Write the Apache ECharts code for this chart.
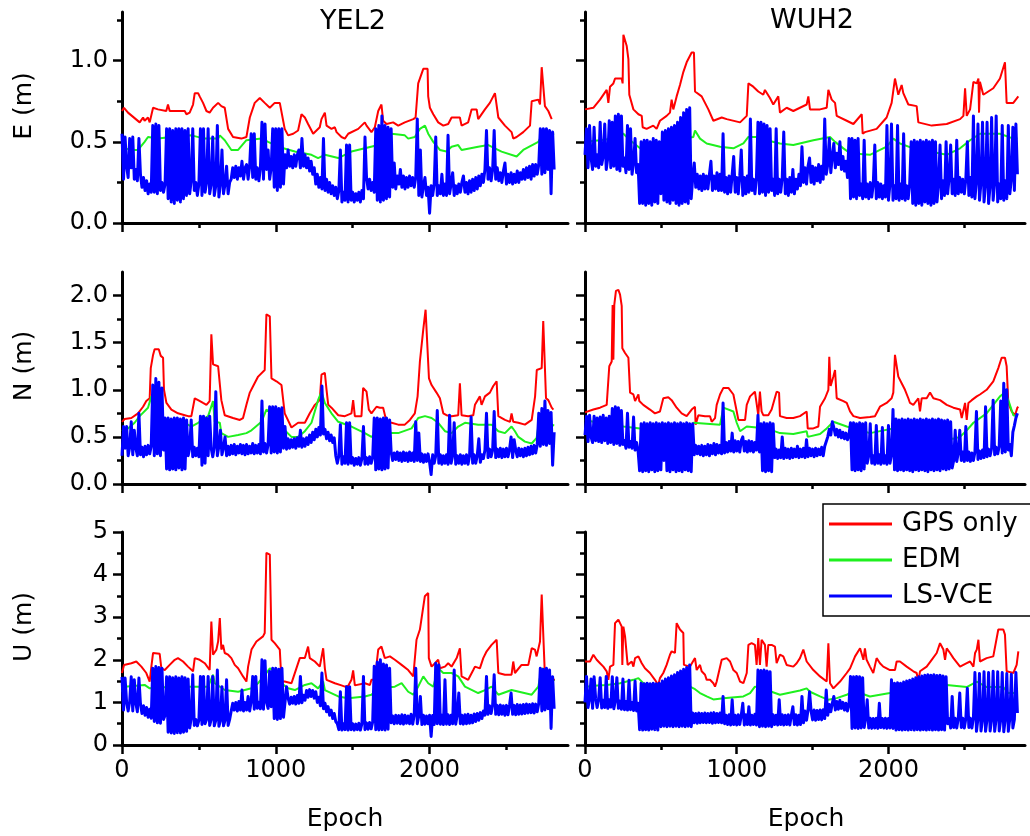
<!DOCTYPE html>
<html><head><meta charset="utf-8">
<script src="https://cdn.jsdelivr.net/npm/echarts@6/dist/echarts.min.js"></script>
<style>html,body{margin:0;padding:0;background:#fff}#c{width:1030px;height:836px}</style>
</head><body><div id="c"></div>
<script>
// ---------------- DATA ----------------
const STATIONS = ['YEL2', 'WUH2'];
const COMPONENT_NAMES = ['E (m)', 'N (m)', 'U (m)'];
const SERIES_NAMES = ['GPS only', 'EDM', 'LS-VCE'];
const X_MAX = 2900;
const X_MAJOR = [0, 1000, 2000];
const X_MINOR = [500, 1500, 2500];
const Y_MAX = [1.3, 2.25, 5];
const Y_MAJOR = [[0, 0.5, 1.0], [0, 0.5, 1.0, 1.5, 2.0], [0, 1, 2, 3, 4, 5]];
const Y_MINOR = [[0.25, 0.75, 1.25], [0.25, 0.75, 1.25, 1.75], [0.5, 1.5, 2.5, 3.5, 4.5]];
const LSVCE_STEP = 10; // epochs between LS-VCE samples

// ---- E, YEL2 ----
const gps_E_YEL2 = [[0,0.69],[13,0.71],[39,0.68],[115,0.62],[137,0.65],[147,0.63],[169,0.65],[180,0.62],[202,0.71],[234,0.70],[245,0.69],[288,0.69],[299,0.73],[310,0.69],[408,0.69],[419,0.67],[440,0.68],[462,0.73],[473,0.80],[495,0.80],[505,0.78],[527,0.74],[549,0.69],[570,0.68],[592,0.71],[625,0.74],[636,0.75],[646,0.72],[668,0.71],[690,0.58],[722,0.53],[776,0.52],[809,0.53],[831,0.65],[863,0.74],[896,0.77],[928,0.74],[961,0.71],[993,0.74],[1026,0.74],[1048,0.63],[1058,0.58],[1080,0.54],[1113,0.55],[1145,0.57],[1167,0.67],[1189,0.65],[1210,0.61],[1243,0.55],[1286,0.59],[1297,0.64],[1319,0.68],[1330,0.60],[1362,0.58],[1384,0.59],[1395,0.56],[1427,0.53],[1449,0.52],[1471,0.55],[1536,0.58],[1579,0.62],[1590,0.60],[1622,0.56],[1644,0.59],[1666,0.69],[1687,0.73],[1698,0.63],[1720,0.61],[1763,0.62],[1796,0.60],[1839,0.62],[1894,0.64],[1909,0.65],[1926,0.86],[1959,0.95],[1987,0.95],[1991,0.78],[2002,0.71],[2024,0.67],[2056,0.62],[2089,0.60],[2121,0.61],[2143,0.65],[2197,0.65],[2208,0.60],[2251,0.62],[2273,0.70],[2306,0.70],[2316,0.64],[2360,0.70],[2392,0.74],[2425,0.80],[2447,0.65],[2490,0.60],[2533,0.56],[2544,0.52],[2566,0.53],[2609,0.56],[2653,0.60],[2664,0.75],[2707,0.76],[2718,0.73],[2729,0.96],[2739,0.96],[2750,0.72],[2772,0.69],[2794,0.64]];
const edm_E_YEL2 = [[0,0.47],[17,0.46],[61,0.45],[104,0.45],[147,0.50],[169,0.53],[234,0.52],[321,0.53],[451,0.54],[538,0.52],[625,0.52],[636,0.54],[668,0.51],[711,0.45],[755,0.45],[809,0.51],[907,0.52],[950,0.50],[1015,0.47],[1124,0.44],[1232,0.42],[1275,0.40],[1319,0.42],[1406,0.40],[1492,0.44],[1579,0.46],[1666,0.48],[1709,0.51],[1753,0.55],[1839,0.54],[1861,0.52],[1904,0.53],[1937,0.58],[1970,0.60],[1991,0.55],[2024,0.50],[2067,0.45],[2110,0.44],[2143,0.47],[2186,0.48],[2208,0.45],[2316,0.47],[2382,0.48],[2468,0.44],[2566,0.41],[2609,0.45],[2707,0.50],[2729,0.54],[2810,0.55]];
const vce_E_YEL2 = [
0.55,0.27,0.53,0.35,0.28,0.52,0.34,0.53,0.27,0.33,
0.26,0.52,0.30,0.22,0.28,0.20,0.26,0.18,0.24,0.19,
0.60,0.19,0.61,0.18,0.60,0.20,0.25,0.19,0.24,0.58,
0.15,0.58,0.13,0.57,0.12,0.58,0.14,0.58,0.13,0.58,
0.15,0.57,0.17,0.58,0.18,0.26,0.58,0.20,0.25,0.17,
0.24,0.58,0.17,0.58,0.19,0.25,0.58,0.18,0.24,0.53,
0.17,0.23,0.60,0.16,0.24,0.45,0.18,0.24,0.35,0.18,
0.25,0.27,0.34,0.28,0.35,0.27,0.34,0.29,0.38,0.27,
0.34,0.36,0.27,0.35,0.55,0.28,0.55,0.27,0.34,0.26,
0.34,0.62,0.27,0.61,0.33,0.45,0.27,0.34,0.58,0.22,
0.58,0.20,0.58,0.22,0.58,0.24,0.42,0.34,0.45,0.35,
0.41,0.34,0.42,0.35,0.42,0.45,0.34,0.52,0.35,0.42,
0.34,0.40,0.32,0.38,0.30,0.34,0.24,0.30,0.22,0.28,
0.21,0.52,0.20,0.27,0.19,0.25,0.18,0.23,0.17,0.22,
0.15,0.20,0.45,0.13,0.19,0.14,0.48,0.13,0.48,0.14,
0.19,0.13,0.18,0.14,0.19,0.13,0.20,0.15,0.53,0.28,
0.21,0.27,0.20,0.25,0.19,0.58,0.14,0.60,0.13,0.66,
0.14,0.60,0.15,0.59,0.16,0.58,0.22,0.37,0.21,0.29,
0.24,0.33,0.22,0.29,0.21,0.28,0.22,0.29,0.23,0.28,
0.22,0.28,0.64,0.17,0.45,0.16,0.23,0.28,0.17,0.22,
0.06,0.23,0.17,0.24,0.53,0.17,0.23,0.18,0.30,0.17,
0.24,0.17,0.54,0.18,0.24,0.31,0.17,0.23,0.18,0.24,
0.19,0.25,0.29,0.19,0.25,0.18,0.26,0.19,0.27,0.20,
0.28,0.21,0.29,0.23,0.30,0.25,0.33,0.57,0.27,0.34,
0.26,0.33,0.57,0.27,0.34,0.26,0.31,0.25,0.32,0.37,
0.24,0.30,0.25,0.31,0.24,0.30,0.25,0.32,0.25,0.31,
0.27,0.33,0.27,0.34,0.28,0.35,0.27,0.36,0.29,0.36,
0.30,0.36,0.58,0.30,0.58,0.31,0.58,0.33,0.57,0.18,
0.56,0.33];

// ---- E, WUH2 ----
const gps_E_WUH2 = [[0,0.70],[11,0.70],[55,0.71],[99,0.76],[143,0.82],[154,0.74],[165,0.84],[187,0.86],[198,0.89],[242,0.89],[248,0.86],[253,1.16],[275,1.09],[286,1.01],[292,0.79],[319,0.70],[352,0.67],[374,0.66],[380,0.59],[406,0.58],[450,0.60],[472,0.58],[494,0.63],[538,0.66],[560,0.68],[571,0.76],[582,0.70],[604,0.78],[626,0.85],[648,0.93],[670,0.99],[703,1.05],[714,1.06],[718,1.05],[725,0.81],[769,0.78],[813,0.70],[846,0.63],[901,0.65],[934,0.64],[1022,0.62],[1066,0.66],[1077,0.86],[1109,0.84],[1142,0.81],[1175,0.79],[1186,0.82],[1219,0.77],[1241,0.73],[1274,0.78],[1285,0.68],[1329,0.71],[1373,0.69],[1461,0.73],[1472,0.78],[1483,0.70],[1549,0.70],[1593,0.71],[1604,0.82],[1626,0.76],[1648,0.74],[1659,0.66],[1725,0.63],[1769,0.61],[1824,0.67],[1830,0.55],[1845,0.56],[1922,0.58],[1988,0.65],[2021,0.74],[2043,0.89],[2065,0.79],[2087,0.85],[2098,0.80],[2131,0.73],[2186,0.72],[2197,0.62],[2285,0.60],[2384,0.61],[2472,0.64],[2494,0.66],[2505,0.83],[2516,0.66],[2538,0.70],[2560,0.87],[2582,0.86],[2593,0.89],[2597,0.68],[2603,0.87],[2625,0.79],[2691,0.83],[2735,0.89],[2768,0.99],[2779,0.74],[2823,0.74],[2856,0.78]];
const edm_E_WUH2 = [[0,0.50],[99,0.51],[187,0.52],[231,0.55],[253,0.55],[297,0.51],[363,0.46],[494,0.46],[582,0.51],[714,0.53],[725,0.57],[758,0.52],[802,0.49],[890,0.47],[978,0.46],[1044,0.49],[1077,0.53],[1131,0.53],[1197,0.51],[1285,0.49],[1373,0.48],[1505,0.51],[1615,0.53],[1648,0.50],[1703,0.46],[1747,0.43],[1878,0.42],[1988,0.47],[2032,0.52],[2076,0.49],[2164,0.46],[2384,0.42],[2472,0.46],[2538,0.51],[2603,0.55],[2735,0.55],[2823,0.52],[2850,0.52]];
const vce_E_WUH2 = [
0.42,0.58,0.34,0.60,0.40,0.33,0.59,0.35,0.42,0.34,
0.62,0.36,0.41,0.61,0.33,0.40,0.63,0.34,0.62,0.35,
0.66,0.33,0.67,0.32,0.66,0.35,0.40,0.31,0.60,0.33,
0.58,0.30,0.37,0.52,0.31,0.36,0.12,0.50,0.12,0.51,
0.11,0.51,0.12,0.50,0.11,0.52,0.13,0.51,0.12,0.50,
0.18,0.56,0.14,0.57,0.13,0.58,0.12,0.59,0.14,0.60,
0.12,0.62,0.11,0.65,0.12,0.68,0.13,0.70,0.12,0.71,
0.15,0.28,0.37,0.22,0.30,0.21,0.29,0.20,0.30,0.21,
0.29,0.21,0.30,0.38,0.20,0.29,0.21,0.31,0.20,0.30,
0.20,0.55,0.19,0.28,0.18,0.29,0.19,0.30,0.41,0.19,
0.28,0.18,0.29,0.45,0.17,0.28,0.18,0.29,0.19,0.64,
0.20,0.27,0.18,0.28,0.62,0.18,0.62,0.19,0.61,0.17,
0.60,0.19,0.58,0.20,0.27,0.17,0.58,0.18,0.27,0.19,
0.28,0.56,0.18,0.27,0.17,0.28,0.19,0.33,0.18,0.27,
0.21,0.30,0.23,0.47,0.25,0.34,0.24,0.35,0.40,0.25,
0.35,0.24,0.34,0.26,0.36,0.25,0.35,0.27,0.64,0.30,
0.36,0.52,0.31,0.41,0.49,0.34,0.43,0.36,0.50,0.33,
0.41,0.32,0.38,0.28,0.52,0.15,0.52,0.16,0.51,0.15,
0.52,0.17,0.24,0.15,0.51,0.16,0.24,0.15,0.25,0.16,
0.24,0.48,0.15,0.25,0.16,0.24,0.15,0.23,0.16,0.60,
0.14,0.24,0.61,0.14,0.23,0.15,0.60,0.14,0.24,0.15,
0.55,0.14,0.23,0.15,0.24,0.50,0.12,0.51,0.11,0.50,
0.12,0.51,0.11,0.50,0.13,0.51,0.12,0.50,0.11,0.51,
0.12,0.50,0.13,0.24,0.48,0.15,0.26,0.17,0.50,0.18,
0.28,0.48,0.18,0.27,0.17,0.51,0.18,0.28,0.19,0.27,
0.18,0.27,0.50,0.17,0.28,0.16,0.66,0.15,0.26,0.61,
0.14,0.25,0.62,0.13,0.24,0.62,0.12,0.23,0.65,0.14,
0.25,0.66,0.13,0.24,0.15,0.60,0.14,0.26,0.15,0.60,
0.18,0.27,0.59,0.20,0.61,0.30];

// ---- N, YEL2 ----
const gps_N_YEL2 = [[0,0.66],[17,0.69],[61,0.70],[104,0.75],[137,0.82],[158,0.88],[180,0.91],[187,1.23],[202,1.37],[212,1.43],[239,1.43],[252,1.36],[267,1.34],[273,1.00],[289,0.86],[321,0.79],[364,0.75],[408,0.73],[430,0.72],[451,0.72],[473,0.91],[495,0.89],[527,0.86],[549,0.84],[570,0.88],[581,1.59],[592,1.27],[625,1.25],[646,0.89],[668,0.73],[722,0.70],[766,0.68],[787,0.70],[809,0.84],[831,0.97],[853,1.04],[885,1.14],[928,1.21],[939,1.80],[961,1.78],[972,1.12],[1004,1.09],[1037,1.05],[1058,0.75],[1102,0.60],[1145,0.65],[1189,0.65],[1221,0.75],[1254,0.84],[1286,0.89],[1297,1.16],[1319,1.18],[1330,1.00],[1341,0.84],[1362,0.81],[1406,0.73],[1449,0.72],[1492,0.75],[1503,0.89],[1514,0.72],[1557,0.72],[1568,1.02],[1590,0.98],[1605,0.79],[1622,0.75],[1655,0.82],[1677,0.81],[1698,0.81],[1720,0.66],[1753,0.65],[1796,0.63],[1839,0.63],[1872,0.68],[1904,0.75],[1922,0.93],[1937,1.30],[1959,1.64],[1974,1.85],[1987,1.87],[1996,1.12],[2013,1.05],[2045,0.97],[2067,0.91],[2089,0.75],[2110,0.73],[2143,0.72],[2186,0.73],[2197,1.07],[2208,0.73],[2251,0.72],[2284,0.73],[2295,0.84],[2327,0.93],[2338,0.84],[2360,0.93],[2392,0.97],[2414,1.04],[2436,1.09],[2447,0.72],[2490,0.68],[2523,0.66],[2533,0.75],[2544,0.66],[2577,0.65],[2620,0.63],[2664,0.68],[2686,0.93],[2697,1.21],[2729,1.23],[2739,1.73],[2750,1.73],[2757,0.91],[2772,0.89],[2794,0.81],[2805,0.79]];
const edm_N_YEL2 = [[0,0.56],[39,0.59],[82,0.65],[115,0.72],[169,0.81],[191,0.93],[213,0.89],[267,0.70],[321,0.66],[408,0.65],[451,0.61],[495,0.65],[560,0.72],[592,0.88],[603,0.66],[636,0.65],[646,0.54],[690,0.50],[755,0.52],[809,0.54],[842,0.57],[907,0.66],[939,0.79],[972,0.75],[1015,0.66],[1058,0.57],[1102,0.50],[1145,0.50],[1189,0.56],[1232,0.65],[1275,0.89],[1297,0.98],[1319,0.86],[1362,0.75],[1406,0.66],[1492,0.61],[1579,0.54],[1622,0.50],[1666,0.54],[1796,0.54],[1883,0.59],[1926,0.70],[1970,0.72],[2013,0.70],[2056,0.65],[2100,0.56],[2143,0.54],[2186,0.61],[2230,0.65],[2316,0.63],[2403,0.63],[2447,0.56],[2490,0.54],[2533,0.61],[2555,0.56],[2577,0.50],[2620,0.45],[2664,0.43],[2696,0.49],[2707,0.61],[2760,0.66],[2810,0.62]];
const vce_N_YEL2 = [
0.30,0.61,0.38,0.61,0.30,0.39,0.66,0.31,0.57,0.38,
0.30,0.75,0.31,0.39,0.29,0.40,0.31,0.41,0.32,0.40,
1.05,0.30,1.12,0.32,1.08,0.30,1.02,0.36,0.70,0.16,
0.70,0.15,0.69,0.16,0.70,0.15,0.70,0.17,0.69,0.15,
0.70,0.16,0.68,0.30,0.38,0.68,0.29,0.39,0.30,0.38,
0.29,0.72,0.20,0.72,0.22,0.70,0.30,0.72,0.38,0.29,
0.39,0.98,0.30,0.40,0.57,0.31,0.39,0.50,0.30,0.40,
0.31,0.41,0.32,0.42,0.31,0.40,0.33,0.42,0.32,0.41,
0.31,0.42,0.32,0.40,0.33,0.43,0.32,0.41,0.33,0.42,
0.32,0.88,0.34,0.43,0.33,0.42,0.82,0.33,0.82,0.34,
0.82,0.33,0.80,0.34,0.81,0.38,0.61,0.37,0.48,0.38,
0.47,0.39,0.48,0.38,0.49,0.40,0.57,0.39,0.48,0.40,
0.49,0.42,0.52,0.44,0.55,0.47,0.58,0.50,0.60,0.52,
1.04,0.53,0.58,0.48,0.55,0.46,0.52,0.44,0.49,0.30,
0.22,0.30,0.63,0.21,0.29,0.22,0.65,0.21,0.65,0.22,
0.28,0.20,0.27,0.21,0.28,0.20,0.27,0.61,0.21,0.28,
0.21,0.29,0.22,0.28,0.70,0.15,0.70,0.16,0.69,0.15,
0.70,0.16,0.70,0.17,0.68,0.34,0.25,0.33,0.26,0.34,
0.25,0.33,0.24,0.34,0.25,0.33,0.24,0.34,0.25,0.33,
0.24,0.66,0.25,0.54,0.24,0.32,0.23,0.31,0.24,0.32,
0.23,0.10,0.31,0.22,0.30,0.78,0.22,0.31,0.21,0.30,
0.22,0.31,0.21,0.73,0.22,0.30,0.65,0.21,0.30,0.22,
0.31,0.21,0.30,0.22,0.31,0.21,0.30,0.71,0.22,0.31,
0.22,0.30,0.48,0.23,0.31,0.27,0.36,0.75,0.28,0.37,
0.29,0.36,0.77,0.28,0.37,0.29,0.38,0.28,0.37,0.29,
0.38,0.29,0.37,0.50,0.28,0.47,0.36,0.29,0.38,0.30,
0.37,0.29,0.38,0.30,0.39,0.31,0.40,0.32,0.41,0.33,
0.42,0.75,0.40,0.80,0.42,0.88,0.41,0.78,0.43,0.76,
0.20,0.55];

// ---- N, WUH2 ----
const gps_N_WUH2 = [[0,0.76],[55,0.79],[99,0.81],[143,0.84],[160,1.25],[176,1.30],[182,1.90],[187,1.32],[193,1.90],[204,2.05],[220,2.06],[231,2.01],[242,1.89],[246,1.44],[264,1.39],[286,1.34],[297,0.97],[319,0.95],[330,0.88],[352,0.95],[358,0.88],[384,0.84],[428,0.79],[461,0.75],[494,0.77],[516,0.91],[549,0.92],[571,0.89],[604,0.81],[637,0.75],[670,0.72],[703,0.79],[725,0.82],[729,0.63],[747,0.73],[791,0.72],[824,0.72],[835,0.66],[857,0.70],[868,0.84],[890,0.95],[912,1.02],[945,1.02],[978,0.95],[989,0.86],[1011,0.68],[1055,0.68],[1066,0.84],[1088,0.93],[1120,0.98],[1131,0.97],[1142,0.73],[1153,0.98],[1164,0.77],[1175,0.73],[1208,0.73],[1230,0.79],[1263,0.98],[1279,0.97],[1285,0.72],[1329,0.70],[1373,0.70],[1417,0.72],[1461,0.77],[1468,0.59],[1505,0.59],[1538,0.61],[1549,0.82],[1582,0.91],[1604,1.00],[1610,1.35],[1619,1.04],[1637,1.14],[1648,1.21],[1659,0.91],[1703,0.88],[1725,0.86],[1747,0.77],[1769,0.72],[1813,0.70],[1878,0.71],[1911,0.72],[1944,0.82],[1988,0.86],[2021,0.91],[2032,0.97],[2043,1.37],[2054,1.36],[2065,1.14],[2087,1.07],[2109,1.00],[2131,0.91],[2142,0.86],[2164,0.84],[2197,0.91],[2208,0.77],[2219,0.91],[2252,0.91],[2274,0.97],[2296,0.91],[2340,0.89],[2384,0.84],[2428,0.81],[2472,0.79],[2483,0.70],[2505,0.86],[2516,0.68],[2527,0.86],[2549,0.89],[2582,0.93],[2603,0.95],[2647,1.00],[2691,1.09],[2724,1.23],[2746,1.34],[2768,1.34],[2779,1.25],[2790,0.86],[2812,0.77],[2834,0.73],[2850,0.81],[2856,0.82]];
const edm_N_WUH2 = [[0,0.68],[55,0.66],[143,0.65],[253,0.61],[363,0.59],[406,0.56],[692,0.56],[714,0.65],[890,0.63],[912,0.81],[978,0.77],[1000,0.65],[1022,0.56],[1066,0.61],[1197,0.59],[1285,0.54],[1373,0.53],[1461,0.56],[1468,0.50],[1549,0.53],[1593,0.59],[1637,0.66],[1725,0.61],[1813,0.57],[1878,0.54],[2032,0.59],[2164,0.58],[2252,0.56],[2340,0.49],[2428,0.48],[2472,0.50],[2516,0.57],[2560,0.65],[2647,0.75],[2735,0.93],[2768,0.97],[2790,0.89],[2823,0.73],[2845,0.72]];
const vce_N_WUH2 = [
0.52,0.72,0.45,0.73,0.50,0.44,0.72,0.46,0.70,0.45,
0.71,0.44,0.73,0.46,0.70,0.43,0.72,0.44,0.80,0.42,
0.82,0.43,0.81,0.41,0.78,0.42,0.46,0.38,0.75,0.39,
0.45,0.38,0.71,0.36,0.44,0.35,0.14,0.64,0.13,0.65,
0.14,0.64,0.13,0.65,0.15,0.64,0.13,0.65,0.14,0.64,
0.15,0.65,0.25,0.64,0.14,0.65,0.13,0.64,0.15,0.65,
0.13,0.64,0.14,0.65,0.13,0.64,0.15,0.65,0.14,0.64,
0.13,0.64,0.31,0.41,0.32,0.40,0.31,0.41,0.30,0.40,
0.31,0.42,0.30,0.41,0.32,0.43,0.31,0.42,0.33,0.41,
0.32,0.86,0.33,0.44,0.34,0.45,0.35,0.54,0.34,0.46,
0.35,0.45,0.34,0.46,0.50,0.35,0.45,0.34,0.46,0.35,
0.45,0.34,0.44,0.36,0.73,0.34,0.64,0.14,0.65,0.13,
0.64,0.14,0.65,0.13,0.64,0.28,0.37,0.27,0.36,0.28,
0.50,0.27,0.38,0.28,0.37,0.27,0.38,0.28,0.37,0.29,
0.40,0.28,0.37,0.29,0.38,0.28,0.47,0.29,0.38,0.30,
0.37,0.29,0.38,0.30,0.37,0.31,0.39,0.30,0.40,0.42,
0.50,0.58,0.52,0.66,0.60,0.52,0.58,0.50,0.57,0.49,
0.55,0.48,0.54,0.47,0.52,0.65,0.15,0.65,0.14,0.64,
0.15,0.65,0.14,0.64,0.16,0.65,0.22,0.30,0.64,0.22,
0.30,0.21,0.62,0.22,0.31,0.21,0.60,0.22,0.30,0.21,
0.62,0.22,0.31,0.79,0.15,0.69,0.14,0.68,0.15,0.69,
0.14,0.68,0.15,0.69,0.14,0.68,0.13,0.69,0.15,0.68,
0.14,0.69,0.15,0.68,0.14,0.69,0.13,0.68,0.15,0.69,
0.14,0.68,0.15,0.69,0.14,0.68,0.16,0.67,0.15,0.68,
0.16,0.66,0.17,0.25,0.57,0.24,0.33,0.57,0.25,0.34,
0.24,0.61,0.25,0.34,0.24,0.33,0.25,0.34,0.77,0.26,
0.35,0.27,0.36,0.28,0.82,0.29,0.37,0.30,0.38,0.89,
0.31,0.39,0.32,0.40,0.88,0.33,1.07,0.34,1.00,0.36,
0.42,0.30,0.55,0.62,0.70,0.75];

// ---- U, YEL2 ----
const gps_U_YEL2 = [[0,1.69],[13,1.88],[61,1.92],[93,1.96],[126,1.84],[158,1.69],[180,1.49],[191,1.84],[202,2.16],[245,2.14],[256,1.80],[278,1.76],[310,1.88],[343,2.00],[364,2.04],[397,1.96],[429,1.84],[462,1.73],[473,2.04],[505,2.00],[538,1.92],[570,1.76],[581,2.90],[592,2.12],[614,2.24],[625,2.43],[636,2.98],[646,2.24],[657,2.35],[668,2.16],[690,2.12],[711,2.04],[733,1.88],[755,1.80],[787,1.61],[809,1.49],[820,1.84],[842,2.24],[874,2.43],[917,2.55],[928,2.63],[939,4.51],[961,4.47],[972,2.47],[993,2.39],[1026,2.24],[1037,1.49],[1058,1.49],[1102,1.45],[1113,1.57],[1156,2.04],[1189,2.04],[1210,2.31],[1221,2.04],[1254,1.96],[1286,1.84],[1308,2.27],[1319,1.80],[1330,1.53],[1384,1.45],[1427,1.40],[1449,1.37],[1471,1.39],[1492,1.53],[1503,1.75],[1514,1.40],[1579,1.45],[1612,1.41],[1622,1.53],[1644,1.53],[1666,2.24],[1687,2.31],[1709,2.04],[1742,2.08],[1774,2.00],[1818,1.88],[1861,1.76],[1894,1.61],[1915,2.47],[1937,2.71],[1969,3.49],[1991,3.57],[1995,2.04],[2013,1.84],[2035,1.92],[2056,2.00],[2067,1.80],[2100,1.84],[2121,1.92],[2143,1.84],[2176,2.04],[2197,2.27],[2208,1.61],[2251,1.53],[2284,1.76],[2295,1.84],[2327,1.80],[2349,2.04],[2371,2.20],[2403,2.35],[2436,2.47],[2447,1.69],[2490,1.65],[2533,1.65],[2544,1.96],[2555,1.69],[2598,1.88],[2642,1.88],[2664,2.27],[2685,2.24],[2696,2.08],[2718,2.43],[2729,3.53],[2739,3.53],[2750,1.61],[2772,1.53],[2815,1.53]];
const edm_U_YEL2 = [[0,1.25],[17,1.37],[147,1.41],[180,1.33],[321,1.37],[473,1.37],[560,1.37],[592,1.65],[603,1.45],[668,1.29],[755,1.25],[842,1.33],[885,1.45],[939,1.69],[961,1.80],[993,1.73],[1037,1.45],[1080,1.33],[1124,1.29],[1189,1.41],[1232,1.45],[1275,1.33],[1308,1.49],[1319,1.29],[1406,1.14],[1471,1.10],[1579,1.14],[1622,1.18],[1666,1.33],[1774,1.37],[1818,1.45],[1861,1.25],[1894,1.18],[1926,1.37],[1959,1.61],[1991,1.45],[2024,1.37],[2056,1.80],[2089,1.69],[2143,1.69],[2186,1.61],[2230,1.37],[2316,1.22],[2360,1.29],[2403,1.37],[2447,1.18],[2533,1.29],[2664,1.18],[2707,1.37],[2729,1.80],[2810,1.50]];
const vce_U_YEL2 = [
1.60,0.82,1.57,1.00,0.80,1.02,1.60,0.80,1.53,0.98,
0.78,1.57,0.96,0.74,0.92,0.70,0.88,0.65,0.84,0.63,
1.80,0.55,1.84,0.52,1.82,0.51,1.80,0.60,0.70,1.60,
0.30,1.60,0.28,1.58,0.27,1.60,0.29,1.57,0.28,1.60,
0.30,1.58,0.32,1.55,0.40,0.62,1.65,0.46,0.60,0.45,
0.58,1.61,0.48,1.61,0.50,0.60,1.61,0.46,0.60,1.61,
0.45,0.58,1.76,0.44,0.57,1.37,0.45,0.58,1.53,0.46,
0.60,0.80,0.98,0.82,1.00,0.80,1.02,0.82,1.29,0.80,
1.00,0.82,1.14,0.80,1.02,1.61,0.84,1.61,0.86,1.00,
0.85,2.00,0.84,1.98,1.00,0.86,1.73,0.90,1.80,0.62,
1.80,0.60,1.78,0.62,1.80,0.65,1.00,1.37,1.10,0.96,
1.12,0.98,1.14,0.96,1.16,0.98,1.61,0.99,1.17,1.05,
1.28,1.12,1.30,1.14,1.28,1.10,1.25,1.00,1.12,0.92,
1.69,0.85,0.98,0.78,0.90,0.70,0.82,0.62,0.74,0.55,
0.50,0.36,1.25,0.35,0.50,0.36,1.37,0.35,1.37,0.36,
0.50,0.35,0.49,0.36,0.51,0.35,0.50,1.61,0.36,0.52,
0.37,0.53,0.38,0.54,1.85,0.36,1.95,0.35,2.00,0.36,
1.90,0.35,1.88,0.37,1.80,0.52,0.68,0.50,0.70,0.51,
0.69,0.50,0.71,0.49,0.70,0.51,0.68,0.50,0.72,0.49,
0.70,1.80,0.50,0.69,1.14,0.48,0.70,0.49,0.68,0.50,
0.70,0.20,0.69,0.48,1.92,0.50,1.88,0.49,0.70,0.48,
1.53,0.49,0.71,0.48,0.70,0.50,1.76,0.49,0.71,1.22,
0.50,0.70,0.49,0.71,0.50,0.72,0.51,0.70,0.52,0.73,
0.55,0.74,0.58,0.76,0.62,0.80,0.70,1.61,0.72,0.92,
0.74,0.94,1.65,0.72,0.93,0.71,0.94,0.72,0.92,0.70,
0.93,0.71,0.94,1.22,0.72,0.93,0.71,0.95,0.72,0.94,
0.73,0.95,0.74,0.96,0.75,0.95,0.76,0.97,0.75,0.96,
0.78,0.98,1.80,0.80,1.78,0.82,1.80,0.85,1.76,0.39,
1.60,0.85];

// ---- U, WUH2 ----
const gps_U_WUH2 = [[0,1.96],[33,1.96],[55,2.12],[77,2.00],[99,1.92],[121,1.84],[143,1.73],[154,1.53],[165,1.84],[187,1.88],[198,2.86],[220,2.94],[231,2.86],[242,2.78],[246,1.88],[253,2.78],[264,2.55],[275,2.55],[281,1.88],[308,1.96],[319,1.84],[330,2.04],[352,2.08],[363,2.12],[374,1.92],[395,1.80],[428,1.69],[461,1.53],[483,1.41],[494,1.57],[516,1.69],[538,1.88],[560,2.12],[571,2.20],[593,2.16],[604,2.86],[626,2.71],[637,2.67],[648,2.63],[652,1.88],[692,1.84],[725,2.04],[736,1.76],[758,1.88],[769,1.73],[791,1.65],[802,1.53],[824,1.53],[846,1.45],[857,1.37],[868,1.49],[901,2.00],[934,2.04],[956,1.96],[978,1.76],[1000,1.69],[1022,1.49],[1044,1.45],[1066,1.69],[1077,2.35],[1098,2.39],[1120,2.35],[1131,1.88],[1142,2.51],[1153,1.88],[1164,2.47],[1186,2.35],[1197,1.84],[1208,2.35],[1230,2.35],[1252,2.31],[1263,1.92],[1285,2.12],[1307,2.08],[1329,1.88],[1373,1.84],[1395,1.92],[1417,2.04],[1439,2.24],[1450,2.24],[1461,1.96],[1505,1.76],[1549,1.61],[1593,1.49],[1604,2.39],[1615,1.45],[1637,1.33],[1648,1.37],[1681,1.49],[1725,1.69],[1747,1.80],[1780,2.08],[1813,2.27],[1835,2.00],[1845,2.27],[1856,2.00],[1878,1.84],[1900,1.69],[1922,2.04],[1944,1.92],[1966,1.84],[2010,1.76],[2043,1.76],[2054,1.96],[2076,1.96],[2120,1.84],[2164,1.73],[2186,1.69],[2197,1.49],[2208,1.73],[2252,1.84],[2285,2.00],[2318,2.16],[2340,2.39],[2362,2.24],[2373,2.00],[2384,2.27],[2406,2.16],[2428,2.04],[2472,1.84],[2516,1.92],[2538,1.96],[2560,1.84],[2571,2.16],[2582,2.24],[2593,2.47],[2603,1.96],[2647,2.04],[2691,2.08],[2724,2.71],[2757,2.71],[2768,2.59],[2779,1.73],[2823,1.69],[2845,1.88],[2856,2.20]];
const edm_U_WUH2 = [[0,1.36],[55,1.39],[143,1.41],[231,1.45],[319,1.53],[352,1.57],[384,1.45],[472,1.37],[582,1.41],[692,1.37],[725,1.31],[758,1.22],[802,1.14],[846,1.07],[912,1.10],[1044,1.14],[1088,1.22],[1120,1.37],[1197,1.29],[1285,1.18],[1417,1.28],[1461,1.33],[1483,1.25],[1549,1.14],[1604,1.06],[1659,1.10],[1725,1.18],[1769,1.25],[1813,1.22],[1878,1.14],[2010,1.22],[2098,1.33],[2142,1.25],[2208,1.33],[2384,1.41],[2516,1.36],[2582,1.49],[2647,1.36],[2757,1.36],[2790,1.22],[2845,1.22]];
const vce_U_WUH2 = [
1.00,1.61,0.88,1.08,1.55,0.86,1.60,1.10,0.88,1.07,
1.58,0.87,1.05,0.88,1.61,0.86,1.06,0.89,1.60,0.85,
1.04,1.58,0.86,1.03,0.84,1.55,0.83,1.02,0.82,1.52,
0.83,1.00,0.81,1.50,0.80,0.98,0.36,1.45,0.35,1.44,
0.36,1.45,0.35,1.44,0.37,1.45,0.36,1.44,0.35,1.45,
0.43,1.50,0.44,1.55,0.43,1.58,0.44,1.62,0.43,1.65,
0.44,1.70,0.43,1.74,0.44,1.78,0.43,1.82,0.44,1.88,
0.43,0.75,0.52,0.74,0.51,0.75,0.52,0.74,0.53,0.75,
0.52,0.74,0.53,0.75,0.51,0.76,0.52,0.74,0.53,0.75,
0.52,1.14,0.50,0.70,0.48,0.71,0.47,1.06,0.48,0.70,
0.47,0.71,0.48,0.70,0.98,0.47,0.71,0.48,0.90,0.47,
0.70,0.48,0.72,0.47,1.76,0.43,1.75,0.44,1.76,0.43,
1.74,0.44,1.72,0.43,0.71,0.48,0.70,0.47,1.06,0.48,
0.71,0.47,0.70,0.48,0.71,0.47,0.70,0.90,0.48,0.71,
0.47,0.70,0.48,1.14,0.52,0.80,0.58,0.82,1.25,0.80,
0.59,0.82,0.58,0.81,0.60,0.82,0.59,0.83,0.62,1.29,
0.70,0.95,0.78,0.98,1.14,0.82,1.02,0.84,1.05,0.86,
1.00,0.82,0.98,0.80,0.95,1.61,0.39,1.60,0.40,1.61,
0.39,1.60,0.40,1.58,0.41,0.62,1.06,0.40,0.63,0.39,
0.62,0.40,0.63,0.39,0.98,0.41,0.62,0.40,0.63,0.39,
0.62,0.40,1.53,0.39,1.45,0.35,1.46,0.36,1.45,0.35,
1.48,0.36,1.50,0.35,1.52,0.36,1.55,0.35,1.58,0.36,
1.60,0.35,1.62,0.36,1.64,0.35,1.65,0.36,1.64,0.35,
1.65,0.36,1.63,0.35,1.64,0.36,1.62,0.35,1.60,0.50,
0.62,0.40,1.14,0.41,0.63,0.40,0.62,1.22,0.41,0.63,
0.40,0.62,1.33,0.41,0.63,0.40,0.64,1.70,0.32,0.62,
1.68,0.33,0.60,1.72,0.32,0.61,1.70,0.33,0.60,1.73,
0.32,0.62,1.72,0.33,0.60,1.70,0.31,0.61,1.68,0.32,
0.62,1.66,0.40,0.60,1.70,0.75];

// ---------------- CHART ----------------
const PANELS = [
  {row:0, col:0, gps:gps_E_YEL2, edm:edm_E_YEL2, vce:vce_E_YEL2},
  {row:0, col:1, gps:gps_E_WUH2, edm:edm_E_WUH2, vce:vce_E_WUH2},
  {row:1, col:0, gps:gps_N_YEL2, edm:edm_N_YEL2, vce:vce_N_YEL2},
  {row:1, col:1, gps:gps_N_WUH2, edm:edm_N_WUH2, vce:vce_N_WUH2},
  {row:2, col:0, gps:gps_U_YEL2, edm:edm_U_YEL2, vce:vce_U_YEL2},
  {row:2, col:1, gps:gps_U_WUH2, edm:edm_U_WUH2, vce:vce_U_WUH2}
];
const FONT = 'DejaVu Sans';
const COLORS = ['#ff0000', '#1ef01e', '#0000ff'];
const COL_LEFT = [122, 585], COL_WIDTH = [446, 440];
const ROW_TOP = [12, 272, 532], ROW_HEIGHT = [211, 212, 213];

const grid = [], xAxis = [], yAxis = [], series = [];
PANELS.forEach((p, g) => {
  grid.push({left: COL_LEFT[p.col], top: ROW_TOP[p.row], width: COL_WIDTH[p.col], height: ROW_HEIGHT[p.row],
    containLabel: false, outerBoundsMode: 'none'});
  const tickStyle = {color: '#000', width: 2.5};
  xAxis.push({type: 'value', gridIndex: g, position: 'bottom', min: 0, max: X_MAX,
    axisLine: {show: true, onZero: false, lineStyle: {color: '#000', width: 3}},
    splitLine: {show: false},
    axisTick: {show: true, customValues: X_MAJOR, length: 9, lineStyle: tickStyle},
    axisLabel: {show: p.row === 2, customValues: X_MAJOR, formatter: v => String(Math.round(v)), margin: 14, color: '#000', fontSize: 24, fontFamily: FONT}});
  xAxis.push({type: 'value', gridIndex: g, position: 'bottom', min: 0, max: X_MAX,
    axisLine: {show: false, onZero: false}, splitLine: {show: false},
    axisTick: {show: true, customValues: X_MINOR, length: 5, lineStyle: tickStyle},
    axisLabel: {show: false}});
  const fmt = p.row === 2 ? (v => String(Math.round(v))) : (v => v.toFixed(1));
  yAxis.push({type: 'value', gridIndex: g, position: 'left', min: 0, max: Y_MAX[p.row],
    axisLine: {show: true, onZero: false, lineStyle: {color: '#000', width: 3}},
    splitLine: {show: false},
    axisTick: {show: true, customValues: Y_MAJOR[p.row], length: 9, lineStyle: tickStyle},
    axisLabel: {show: p.col === 0, customValues: Y_MAJOR[p.row], formatter: fmt, margin: 14, color: '#000', fontSize: 24, fontFamily: FONT}});
  yAxis.push({type: 'value', gridIndex: g, position: 'left', min: 0, max: Y_MAX[p.row],
    axisLine: {show: false, onZero: false}, splitLine: {show: false},
    axisTick: {show: true, customValues: Y_MINOR[p.row], length: 5, lineStyle: tickStyle},
    axisLabel: {show: false}});
  const base = {type: 'line', xAxisIndex: 2 * g, yAxisIndex: 2 * g, symbol: 'none', showSymbol: false, silent: true, animation: false};
  series.push(Object.assign({}, base, {name: SERIES_NAMES[0], data: p.gps, lineStyle: {color: COLORS[0], width: 2}, itemStyle: {color: COLORS[0]}}));
  series.push(Object.assign({}, base, {name: SERIES_NAMES[1], data: p.edm, lineStyle: {color: COLORS[1], width: 2}, itemStyle: {color: COLORS[1]}}));
  series.push(Object.assign({}, base, {name: SERIES_NAMES[2], data: p.vce.map((v, i) => [i * LSVCE_STEP, v]), lineStyle: {color: COLORS[2], width: 3, join: 'round'}, itemStyle: {color: COLORS[2]}}));
});

const txt = (text, x, y, size, rot, va) => ({type: 'text', x, y, rotation: rot || 0, silent: true,
  style: {text, font: size + 'px "' + FONT + '"', fill: '#000', align: 'center', textAlign: 'center', verticalAlign: va || 'top', textVerticalAlign: va || 'top'}});

const graphic = [
  txt(STATIONS[0], 353, 8, 27),
  txt(STATIONS[1], 812, 7, 27),
  txt('Epoch', 345, 807, 25),
  txt('Epoch', 806, 807, 25),
  txt(COMPONENT_NAMES[0], 12, 106, 25, Math.PI / 2),
  txt(COMPONENT_NAMES[1], 12, 366, 25, Math.PI / 2),
  txt(COMPONENT_NAMES[2], 12, 627, 25, Math.PI / 2)
];

const chart = echarts.init(document.getElementById('c'), null, {renderer: 'canvas'});
chart.setOption({
  animation: false,
  backgroundColor: '#fff',
  grid, xAxis, yAxis, series, graphic,
  legend: {
    show: true, orient: 'vertical', left: 823, top: 504, selectedMode: false,
    data: SERIES_NAMES.map(n => ({name: n, icon: 'rect'})),
    itemWidth: 63, itemHeight: 3, itemGap: 8,
    padding: [6, 20, 6, 6],
    backgroundColor: '#fff', borderColor: '#000', borderWidth: 1.5, borderRadius: 0,
    textStyle: {fontSize: 26, fontFamily: FONT, color: '#000', lineHeight: 28, padding: [0, 0, 0, 5]}
  }
});
</script>
</body></html>
